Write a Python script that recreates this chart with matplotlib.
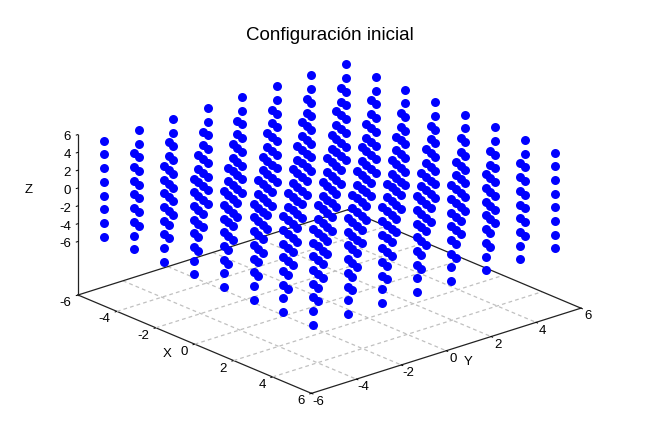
import numpy as np
import matplotlib
matplotlib.use("Agg")
import matplotlib.pyplot as plt
from matplotlib.transforms import Affine2D
from mpl_toolkits.mplot3d import proj3d

plt.rcParams['font.family'] = ['Liberation Sans', 'DejaVu Sans']
plt.rcParams['axes.unicode_minus'] = False

# Data: one cubic lattice, 8 planes per direction
x_planes = [-5.38, -3.84, -2.31, -0.77, 0.77, 2.31, 3.84, 5.38]
y_planes = [-5.38, -3.84, -2.31, -0.77, 0.77, 2.31, 3.84, 5.38]
z_planes = [-5.38, -3.84, -2.31, -0.77, 0.77, 2.31, 3.84, 5.38]
tick_values = [-6, -4, -2, 0, 2, 4, 6]
grid_values = [-4, -2, 0, 2, 4]
title = "Configuración inicial"

W, H = 659, 443
fig = plt.figure(figsize=(W / 100, H / 100), dpi=100)
rect_h = W / H
ax = fig.add_axes([0, (1 - rect_h) / 2, 1, rect_h], projection='3d',
                  proj_type='ortho', computed_zorder=False)
ax.patch.set_alpha(0)
fig.patch.set_facecolor('white')

ax.set_xlim(-6, 6)
ax.set_ylim(-6, 6)
ax.set_zlim(-12, 6)
ax.view_init(elev=21.4, azim=-40.9)
ax.set_box_aspect((12, 12, 5.8), zoom=0.785)

ax.set_xticks(tick_values)
ax.set_yticks(tick_values)
ax.set_zticks(tick_values)
ax.grid(False)
ax.zaxis.set_ticks_position('lower')
ax.zaxis.set_label_position('lower')
for axis in (ax.xaxis, ax.yaxis, ax.zaxis):
    axis.pane.set_visible(False)
    axis.line.set_color('#222222')
    axis.line.set_linewidth(0.9)
    info = axis._axinfo['tick']
    info['inward_factor'] = 0.08
    info['outward_factor'] = 0.0
    info['linewidth'] = {True: 0.7, False: 0.5}
    info['color'] = '#222222'
ax.tick_params(axis='both', labelsize=9.5, pad=-1, colors='black')
ax.tick_params(axis='z', labelsize=9.5, pad=-4.5, colors='black')
plt.setp(ax.get_xticklabels(), va='baseline', ha='right')
plt.setp(ax.get_yticklabels(), va='baseline')
plt.setp(ax.get_zticklabels(), ha='right')

# floor grid
gstyle = dict(color='#c0c0c0', lw=0.9, ls=(0, (3, 2.5)), zorder=1)
for v in grid_values:
    ax.plot([v, v], [-6, 6], [-12, -12], **gstyle)
    ax.plot([-6, 6], [v, v], [-12, -12], **gstyle)
# rear border of the floor
bstyle = dict(color='#222222', lw=0.9, zorder=2)
ax.plot([-6, 6], [6, 6], [-12, -12], **bstyle)
ax.plot([-6, -6], [-6, 6], [-12, -12], **bstyle)

X, Y, Z = np.meshgrid(x_planes, y_planes, z_planes, indexing='ij')
ax.scatter(X.ravel(), Y.ravel(), Z.ravel(), s=42, c='#0000ff', marker='o',
           linewidths=0, depthshade=False, zorder=5)

ax.set_xlabel('X', fontsize=9.5, labelpad=0)
ax.set_ylabel('Y', fontsize=9.5, labelpad=0)
ax.zaxis.set_rotate_label(False)
ax.set_zlabel('Z', fontsize=9.5, labelpad=0, rotation=0)

fig.suptitle(title, x=330 / W, y=1 - 36 / H, va='center', ha='center', fontsize=13.5)

# place the floor's left corner where the reference has it
fig.canvas.draw()
M = ax.get_proj()
px, py, _ = proj3d.proj_transform(-6, -6, -12, M)
cx, cy = ax.transData.transform((px, py))
pos = ax.get_position()
ax.set_position([pos.x0 + (78 - cx) / W, pos.y0 + ((H - 295) - cy) / H, pos.width, pos.height])

# nudge texts (the 3D axis resets their transform on each draw)
def nudge(label, dx, dy):
    shifted = ax.transData + Affine2D().translate(dx, dy)
    label.get_transform = lambda: shifted

nudge(ax.xaxis.label, -5, 11)
nudge(ax.yaxis.label, 2, 11)
nudge(ax.zaxis.label, -7, 24)
for tick in ax.xaxis.get_major_ticks():
    nudge(tick.label1, 1, -4)
for tick in ax.yaxis.get_major_ticks():
    nudge(tick.label1, 0, -4)
for tick in ax.zaxis.get_major_ticks():
    nudge(tick.label1, 0, 3)

fig.savefig('out.png', dpi=100, facecolor='white')
